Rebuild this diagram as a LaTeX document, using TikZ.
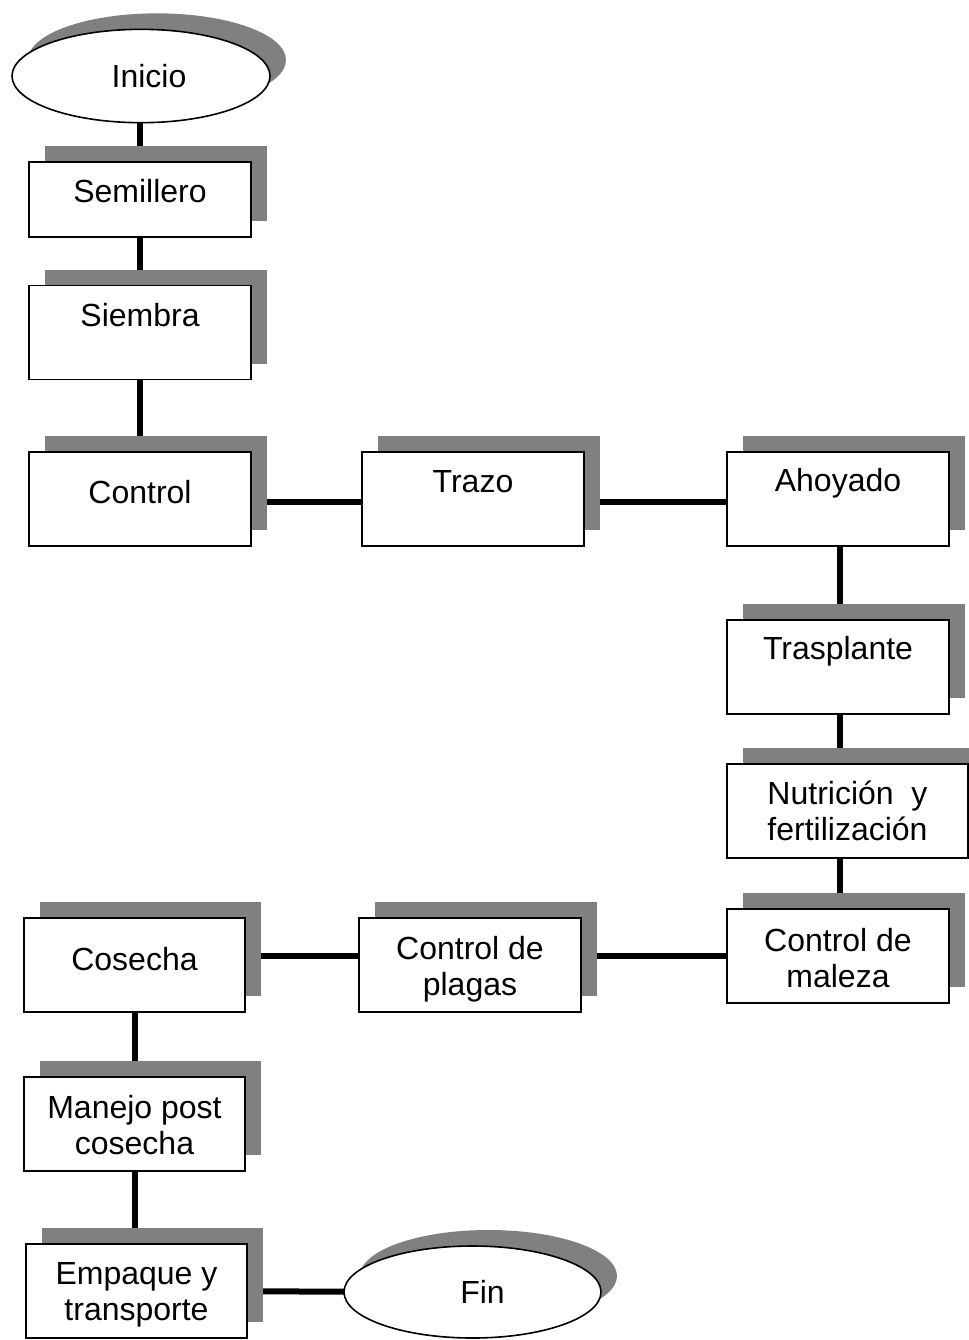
\documentclass[tikz,border=0pt]{standalone}
\usepackage{fontspec}
\setmainfont{Liberation Sans}
\usetikzlibrary{shapes.geometric, shadows, backgrounds}
\definecolor{grisombra}{RGB}{128,128,128}

\begin{document}
\begin{tikzpicture}[x=0.75pt, y=-0.75pt,
    font=\fontsize{24}{27}\selectfont,
    sombra/.style={drop shadow={shadow xshift=12pt, shadow yshift=12pt, fill=grisombra, opacity=1}},
    caja/.style={rectangle, draw, line width=1.4pt, fill=white, minimum width=166.5pt, minimum height=70.5pt, inner sep=0pt, outer sep=0pt, align=center, sombra},
    ovalo/.style={ellipse, draw, line width=1.2pt, fill=white, minimum width=193.5pt, minimum height=70pt, inner sep=0pt, outer sep=0pt, sombra},
    linea/.style={line width=4.5pt}]
        \useasboundingbox (0,0) rectangle (969,1340);

        % columna izquierda
        \node[ovalo, label={[xshift=6pt]center:Inicio}] (inicio) at (141,76) {};
        \node[caja, minimum height=56.25pt, label={[yshift=6pt]center:Semillero}] (semillero) at (140,199.5) {};
        \node[caja, label={[yshift=13pt]center:Siembra}] (siembra) at (140,332.5) {};
        \node[caja, label={[yshift=5pt]center:Control}] (control) at (140,499) {};

        % fila superior y columna derecha
        \node[caja, label={[yshift=13pt]center:Trazo}] (trazo) at (473,499) {};
        \node[caja, label={[yshift=12pt]center:Ahoyado}] (ahoyado) at (838,499) {};
        \node[caja, label={[yshift=11.5pt]center:Trasplante}] (trasplante) at (838,667) {};
        \node[caja, minimum width=180.75pt] (nutricion) at (847.5,811) {Nutrición\ \ y\\fertilización};
        \node[caja, label={[align=center, yshift=-1.5pt]center:Control de\\maleza}] (maleza) at (838,956) {};

        % fila inferior
        \node[caja, label={[align=center, yshift=-3pt]center:Control de\\plagas}] (plagas) at (470,965) {};
        \node[caja, minimum width=165.75pt, label={[yshift=4.5pt]center:Cosecha}] (cosecha) at (134.5,965) {};
        \node[caja, minimum width=165.75pt, label={[align=center, yshift=-0.75pt]center:Manejo post\\cosecha}] (manejo) at (134.5,1124) {};
        \node[caja, minimum width=165.75pt, label={[align=center, yshift=-3pt]center:Empaque y\\transporte}] (empaque) at (136.5,1291) {};
        \node[ovalo, minimum width=192.75pt, minimum height=69pt, label={[xshift=7.5pt]center:Fin}] (fin) at (472.5,1292) {};

        \begin{scope}[on background layer]
          \draw[linea] (semillero |- inicio) -- (semillero);
          \draw[linea] (semillero) -- (siembra);
          \draw[linea] (siembra) -- (control);
          \draw[linea] ([yshift=-2pt]control.east) -- ([yshift=-2pt]trazo.west);
          \draw[linea] ([yshift=-2pt]trazo.east) -- ([yshift=-2pt]ahoyado.west);
          \draw[linea] ([xshift=1.5pt]ahoyado.south) -- ([xshift=1.5pt]trasplante.north);
          \draw[linea] ([xshift=1.5pt]trasplante.south) -- ([xshift=1.5pt]trasplante.south |- nutricion.north);
          \draw[linea] ([xshift=1.5pt]maleza.north |- nutricion.south) -- ([xshift=1.5pt]maleza.north);
          \draw[linea] (maleza) -- (plagas.center |- maleza);
          \draw[linea] (plagas.center |- maleza) -- (cosecha.center |- maleza);
          \draw[linea] (cosecha) -- (manejo);
          \draw[linea] (manejo.south) -- (manejo.south |- empaque.north);
          \draw[linea] (empaque) -- (fin);
        \end{scope}
\end{tikzpicture}
\end{document}
